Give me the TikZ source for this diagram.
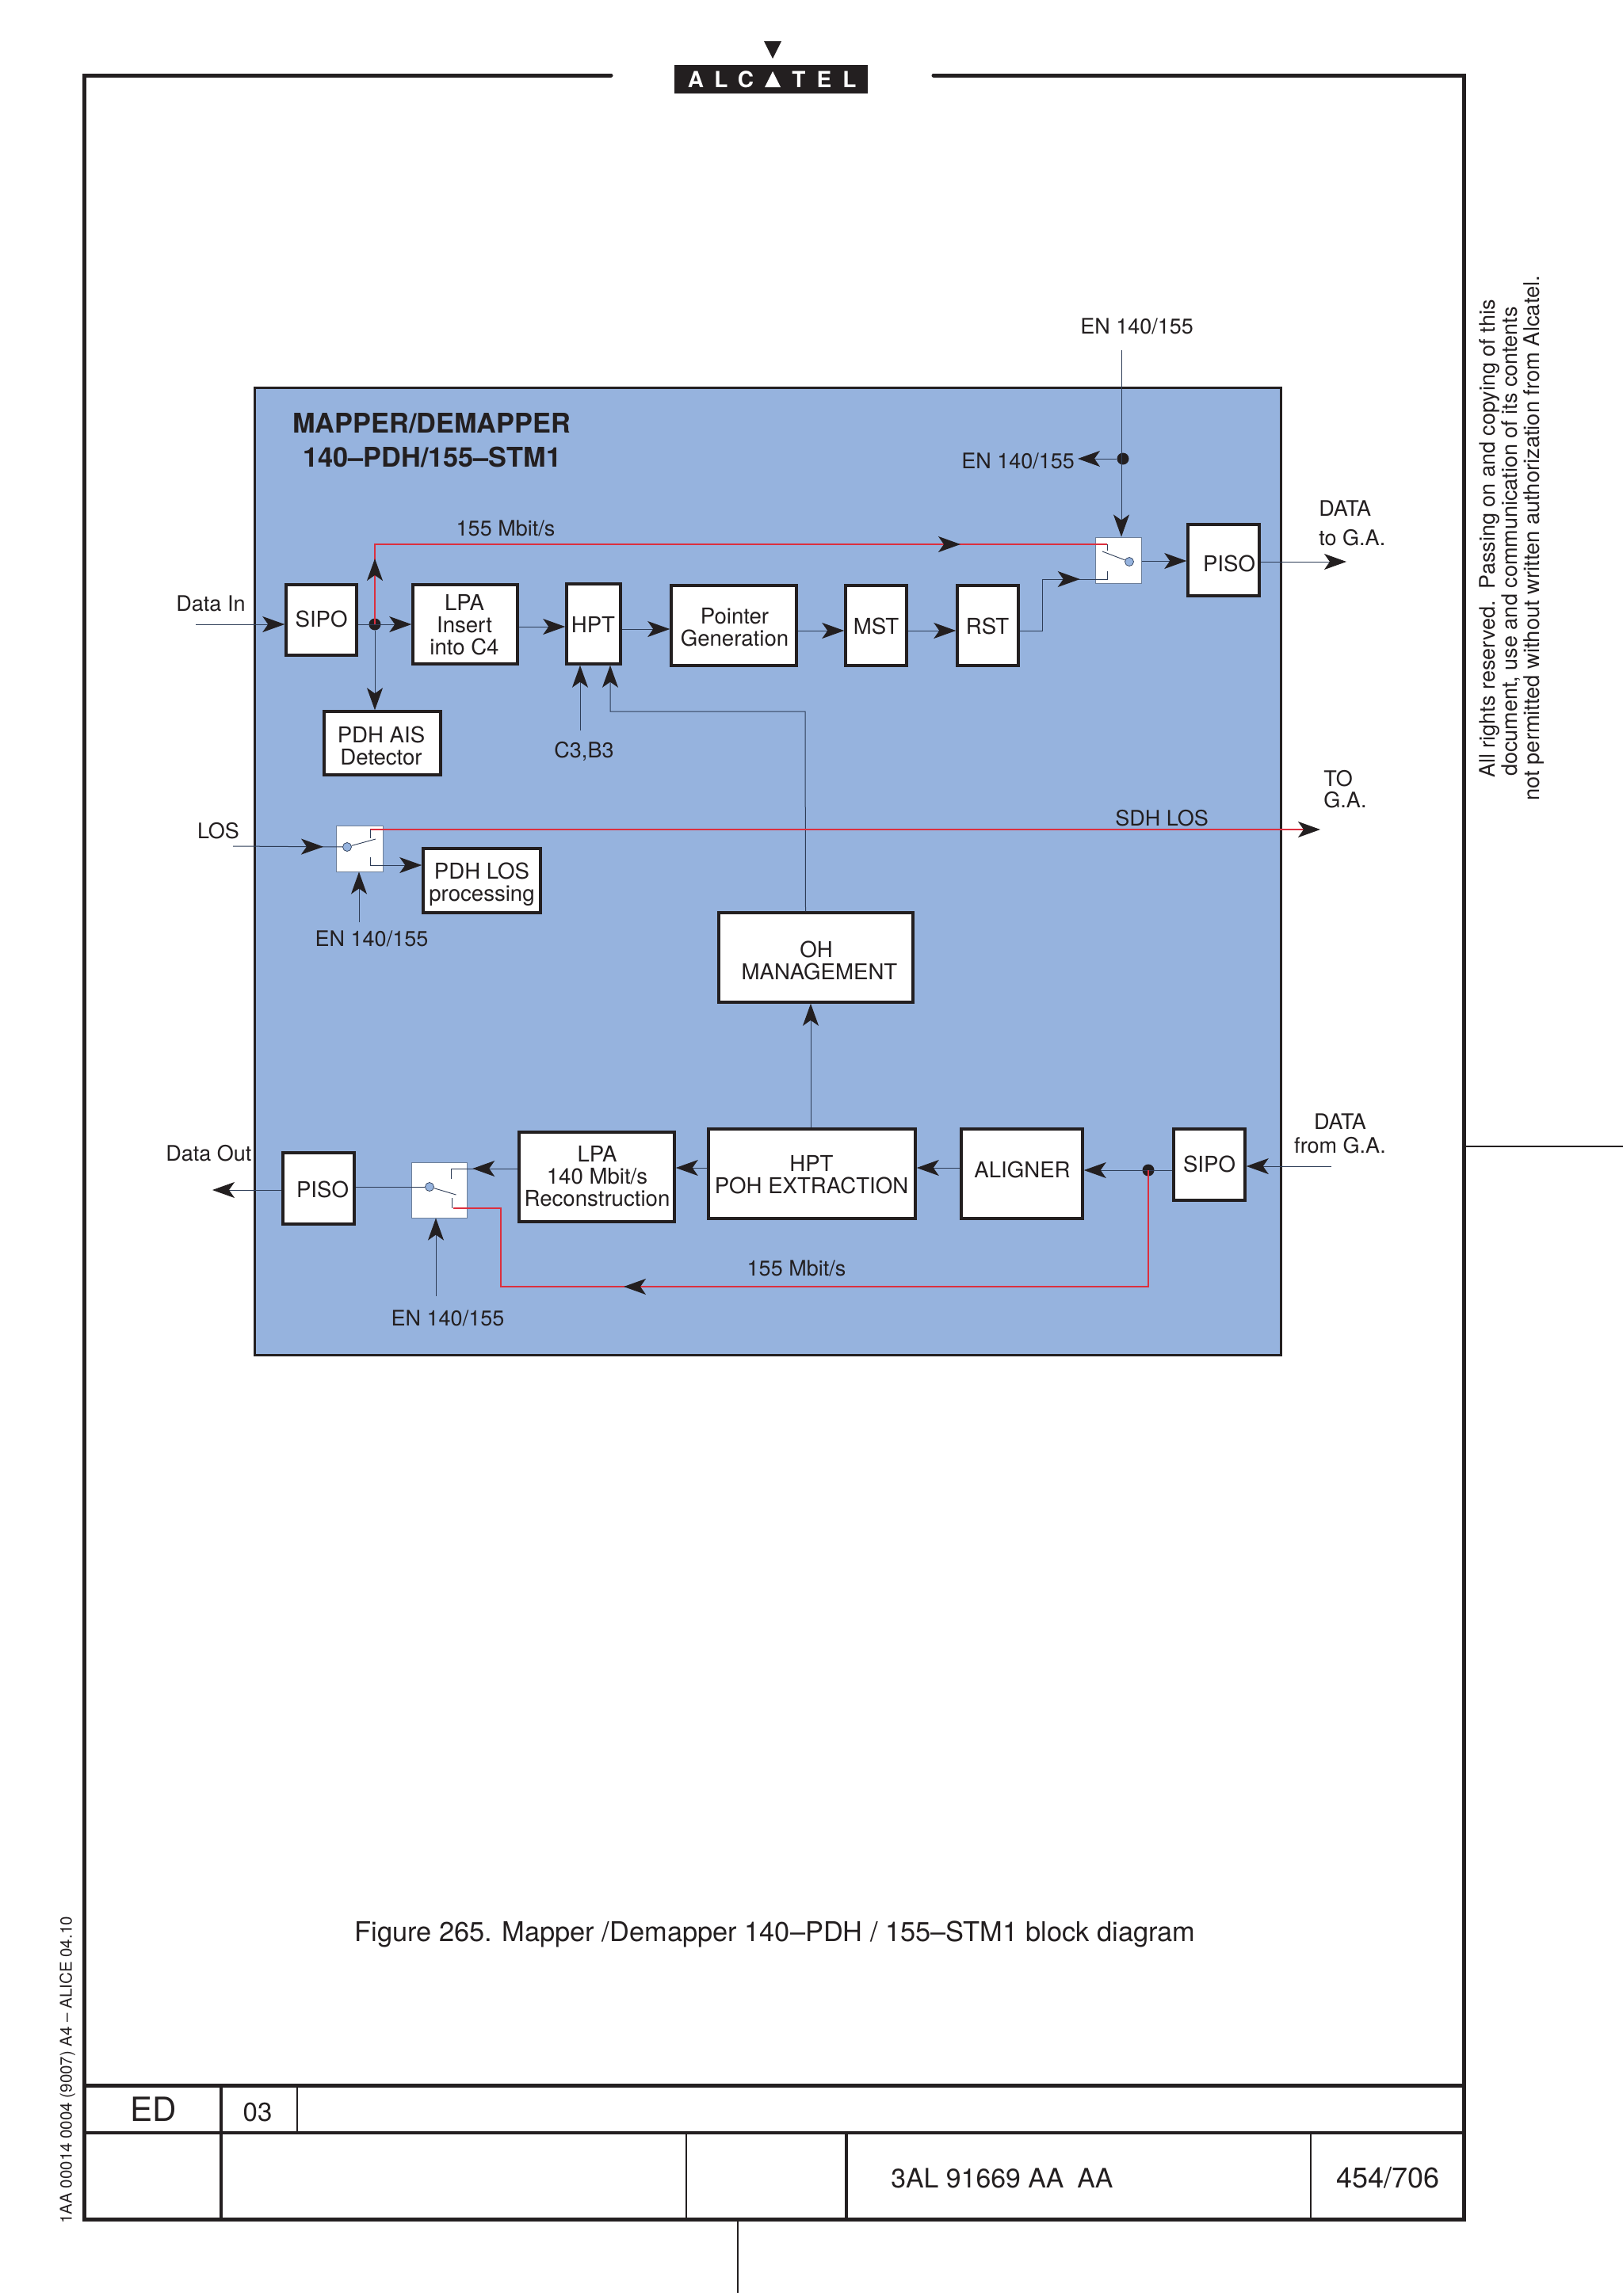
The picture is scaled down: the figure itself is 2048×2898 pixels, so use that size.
\documentclass[tikz,border=0pt]{standalone}
\usepackage{fontspec}
\setmainfont{TeX Gyre Heros}
\usetikzlibrary{arrows.meta,decorations.markings}
\definecolor{ink}{HTML}{231F20}
\definecolor{wire}{HTML}{2E3D57}
\definecolor{panel}{HTML}{96B3DE}
\definecolor{redw}{HTML}{DC2F3E}
\definecolor{swb}{HTML}{6D7F99}
\newcommand{\fs}[1]{\fontsize{#1}{13.5}\selectfont}
\tikzset{
  mytip/.tip={Stealth[length=14pt,width=10pt,inset=3.5pt,color=ink,fill=ink]},
  box/.style={draw=ink,line width=1.75pt,fill=white,inner sep=0pt,rectangle,font=\fs{13.8},text=ink},
  lab/.style={inner sep=0pt,font=\fs{13.5},text=ink,anchor=base},
  labl/.style={lab,anchor=base west},
  ln/.style={draw=wire,line width=0.5pt},
  arr/.style={ln,-{mytip}},
  redl/.style={draw=redw,line width=0.85pt},
  tipat/.style={postaction={decorate},decoration={markings,mark=at position #1 with {\arrow{mytip}}}},
  jdot/.style={circle,fill=ink,inner sep=0pt,minimum size=7.5pt},
  swbox/.style={rectangle,draw=swb,line width=0.5pt,fill=white,inner sep=0pt},
  swc/.style={circle,draw=wire,line width=0.35pt,fill=panel,inner sep=0pt,minimum size=5.5pt},
  swl/.style={draw=wire,line width=0.45pt},
  frame/.style={draw=ink,line width=2.5pt,line cap=round,line join=miter},
  rule/.style={draw=ink,line width=#1},
  logol/.style={inner sep=0pt,anchor=base,text=white,font=\bfseries\fs{14}},
}
\newcommand{\bx}[8]{%
  \pgfmathsetmacro{\bxw}{(#4-#2)*0.5}%
  \pgfmathsetmacro{\bxh}{(#5-#3)*0.5}%
  \pgfmathsetmacro{\bxdx}{#6-(#2+#4)/2}%
  \pgfmathsetmacro{\bxdy}{((#3+#5)/2-#7)*0.5}%
  \node[box,minimum width=\bxw pt,minimum height=\bxh pt] (#1) at ({(#2+#4)/2},{(#3+#5)/2})
    {\smash{\raisebox{\bxdy pt}{\makebox[0pt]{\kern\bxdx pt\begin{tabular}[t]{@{}c@{}}#8\end{tabular}}}}};%
}
\begin{document}
\begin{tikzpicture}[x=0.5pt,y=-0.5pt]
\useasboundingbox (0,0) rectangle (2048,2898);
% page frame
\draw[frame] (771,95) -- (106,95) -- (106,2801) -- (1847,2801) -- (1847,95) -- (1178,95);
\draw[rule=2.5pt] (106,2632) -- (1847,2632);
\draw[rule=1.6pt] (106,2692) -- (1847,2692);
\draw[rule=2pt] (279,2632) -- (279,2801);
\draw[rule=1.2pt] (375,2632) -- (375,2692);
\draw[rule=1.4pt] (866,2692) -- (866,2801);
\draw[rule=2pt] (1068,2692) -- (1068,2801);
\draw[rule=1.4pt] (1654,2692) -- (1654,2801);
\draw[rule=1pt] (931,2801) -- (931,2894);
\draw[rule=1pt] (1848,1447) -- (2048,1447);
% logo
\fill[ink] (964,52) -- (986,52) -- (975,74) -- cycle;
\node[fill=ink,inner sep=0pt,minimum width=122pt,minimum height=18pt] (logo) at (973,100) {};
\node[logol] (la) at (878,110) {A};
\node[logol] (ll) at (910,110) {L};
\node[logol] (lc) at (941,110) {C};
\fill[white] (975,90) -- (985,110) -- (965,110) -- cycle;
\node[logol] (lt) at (1008,110) {T};
\node[logol] (le) at (1040,110) {E};
\node[logol] (ll2) at (1072,110) {L};
% panel
\node[rectangle,draw=ink,line width=1.5pt,fill=panel,inner sep=0pt,minimum width=647.5pt,minimum height=610.5pt] (panel) at (968.5,1099.5) {};
\node[labl,font=\bfseries\fs{17.15}] (t1) at (369,546) {MAPPER/DEMAPPER};
\node[labl,font=\bfseries\fs{17.15}] (t2) at (382,589) {140--PDH/155--STM1};
% boxes
\bx{sipoa}{361}{738}{450}{827}{405.6}{791.6}{SIPO}
\bx{lpaa}{521}{738}{653}{838}{586}{770}{LPA\\Insert\\into C4}
\bx{hpta}{715}{737}{783}{838}{748.5}{798}{HPT}
\bx{ptr}{847}{739}{1005}{840}{927}{787}{Pointer\\Generation}
\bx{mst}{1067}{739}{1144}{840}{1105.6}{800}{MST}
\bx{rst}{1208}{739}{1285}{840}{1246}{800}{RST}
\bx{pisoa}{1499}{662}{1589}{752}{1551}{721.5}{PISO}
\bx{ais}{409}{898}{556}{978}{481}{937}{PDH AIS\\Detector}
\bx{los}{534}{1071}{682}{1152}{608}{1109.5}{PDH LOS\\processing}
\bx{oh}{907}{1152}{1152}{1265}{1034}{1208}{OH\kern4pt\\MANAGEMENT}
\bx{pisob}{357}{1455}{447}{1545}{407}{1511}{PISO}
\bx{lpab}{655}{1429}{851}{1542}{753.5}{1466}{LPA\\140 Mbit/s\\Reconstruction}
\bx{hptb}{894}{1425}{1155}{1538}{1024}{1478}{HPT\\POH EXTRACTION}
\bx{ali}{1213}{1425}{1366}{1538}{1290}{1486}{ALIGNER}
\bx{sipob}{1481}{1425}{1571}{1515}{1526}{1479}{SIPO}
% switches
\node[swbox,minimum width=29pt,minimum height=29pt] (swa) at (1411,707) {};
\node[swbox,minimum width=29.5pt,minimum height=29pt] (swb) at (453.5,1071) {};
\node[swbox,minimum width=35pt,minimum height=35pt] (swc) at (554,1502) {};
\node[swc] (ca) at (1425,709) {};
\node[swc] (cb) at (438,1069) {};
\node[swc] (cc) at (542,1498) {};
\draw[swl] (1391,696) -- (ca);
\draw[swl] (cb) -- (474,1059);
\draw[swl] (cc) -- (575.5,1508);
% junctions
\node[jdot] (da) at (473,788) {};
\node[jdot] (db) at (1417,579) {};
\node[jdot] (dc) at (1449,1477) {};
% free ends
\coordinate (indata) at (247,788);
\coordinate (inlos) at (294,1068);
\coordinate (outlos) at (1666,1047);
\coordinate (inen) at (1415,442);
\coordinate (outen) at (1360,579);
\coordinate (incb) at (732,922);
\coordinate (enb) at (453,1164);
\coordinate (enc) at (550,1636);
\coordinate (outa) at (1699,709);
\coordinate (outb) at (268,1502);
\coordinate (inb) at (1680,1472);
% connectors, upper path
\draw[arr] (indata) -- (sipoa.west |- indata);
\draw[arr] (sipoa.east |- da) -- (lpaa.west |- da);
\draw[arr] (da) -- (ais.north -| da);
\draw[arr] (lpaa.east |- 0,791) -- (hpta.west |- 0,791);
\draw[arr] (hpta.east |- 0,794) -- (ptr.west |- 0,794);
\draw[arr] (ptr.east |- 0,796) -- (mst.west |- 0,796);
\draw[arr] (mst.east |- 0,796) -- (rst.west |- 0,796);
\draw[ln,tipat=70.5pt] (rst.east |- 0,796) -- (1315,796) -- (1315,731) -- (1397,731) -- (1397,721);
\draw[arr] (swa.east |- 0,708) -- (pisoa.west |- 0,708);
\draw[arr] (pisoa.east |- outa) -- (outa);
\draw[arr] (inen) -- (swa.north -| inen);
\draw[arr] (db) -- (outen);
\draw[arr] (incb) -- (hpta.south -| incb);
\draw[arr] ([xshift=-6.5pt]oh.north) -- (1016,898) -- (770,898) -- (hpta.south -| 770,0);
\draw[arr] (hptb.north -| 1023,0) -- (oh.south -| 1023,0);
% red upper
\draw[redl,postaction={decorate},decoration={markings,mark=at position 41.5pt with {\arrow{mytip}},mark=at position 420pt with {\arrow{mytip}}}]
  (da.center) -- (473,687) -- (1397,687);
\draw[swl] (1397,687) -- (1397,695);
% LOS
\draw[ln,tipat=57pt] (inlos) -- (cb);
\draw[redl,-{mytip}] (467,1047) -- (outlos);
\draw[swl] (467,1047) -- (467,1058);
\draw[swl] (467,1082) -- (467,1092);
\draw[arr] (467,1092) -- (los.west |- 467,1092);
\draw[arr] (enb) -- (swb.south -| enb);
% lower path
\draw[arr] (inb) -- (sipob.east |- inb);
\draw[arr] (sipob.west |- dc) -- (ali.east |- dc);
\draw[arr] (ali.west |- 0,1474) -- (hptb.east |- 0,1474);
\draw[arr] (hptb.west |- 0,1474) -- (lpab.east |- 0,1474);
\draw[ln,tipat=28.5pt] (lpab.west |- 0,1475) -- (569,1475) -- (569,1488);
\draw[ln] (pisob.east |- cc) -- (cc);
\draw[arr] (pisob.west |- outb) -- (outb);
\draw[arr] (enc) -- (swc.south -| enc);
\draw[swl] (570,1512) -- (570,1525);
\draw[redl,tipat=404.5pt] (dc.center) -- (1449,1624) -- (632,1624) -- (632,1525) -- (572,1525);
% labels
\node[lab] (ldi) at (266,771) {Data In};
\node[lab] (lm1) at (638,676) {155 Mbit/s};
\node[labl] (len1) at (1363,421) {EN 140/155};
\node[labl] (len2) at (1213,591) {EN 140/155};
\node[labl] (ld1) at (1664,651) {DATA};
\node[labl] (ld2) at (1664,688) {to G.A.};
\node[lab] (lc3) at (737,956) {C3,B3};
\node[lab] (llos) at (275.5,1058) {LOS};
\node[lab] (len3) at (469,1194) {EN 140/155};
\node[labl] (lsdh) at (1407,1042) {SDH LOS};
\node[labl] (lto) at (1670,992.5) {TO};
\node[labl] (lga) at (1670,1019) {G.A.};
\node[labl] (ldo) at (209,1465) {Data Out};
\node[lab] (len4) at (565,1673) {EN 140/155};
\node[lab] (lm2) at (1005,1610) {155 Mbit/s};
\node[lab] (ld3) at (1691,1425) {DATA};
\node[lab] (ld4) at (1691,1455) {from G.A.};
% page texts
\node[labl,font=\fs{17.2}] (fig) at (447,2450) {Figure 265. Mapper /Demapper 140--PDH / 155--STM1 block diagram};
\node[lab,font=\fs{21}] (ed) at (194,2677) {ED};
\node[lab,font=\fs{16.5}] (ver) at (325,2677) {03};
\node[labl,font=\fs{16.9}] (docn) at (1124,2761) {3AL 91669 AA\kern8.5pt AA};
\node[labl,font=\fs{18}] (pg) at (1686,2761) {454/706};
\node[labl,rotate=90] (r1) at (1886,982) {All rights reserved.\ \ Passing on and copying of this};
\node[labl,rotate=90] (r2) at (1914,980) {document, use and communication of its contents};
\node[labl,rotate=90,font=\fs{13.65}] (r3) at (1942,1011) {not permitted without written authorization from Alcatel.};
\node[labl,rotate=90,font=\fs{10.25}] (l1) at (90.7,2807) {1AA 00014 0004 (9007) A4 -- ALICE 04.10};
\end{tikzpicture}
\end{document}
